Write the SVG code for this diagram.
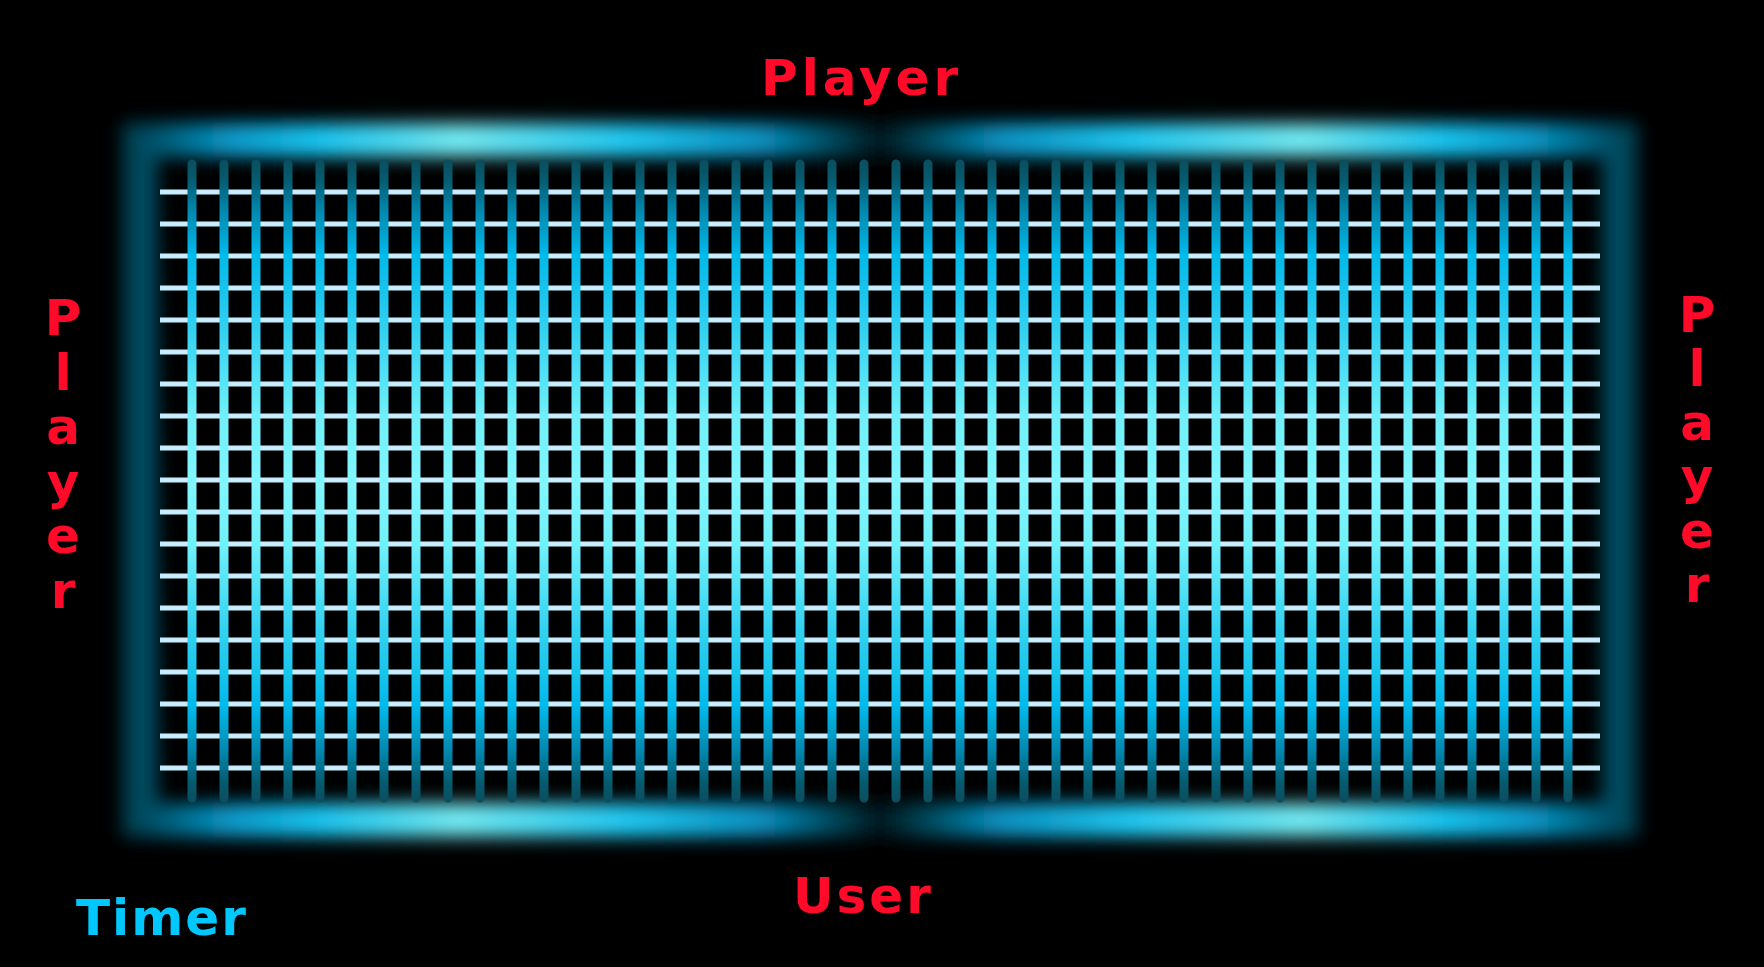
<svg xmlns="http://www.w3.org/2000/svg" width="1764" height="967" viewBox="0 0 1764 967">
<defs>
<linearGradient id="glowGrad" gradientUnits="userSpaceOnUse" x1="140" y1="0" x2="1620" y2="0">
<stop offset="0" stop-color="#00465a"/>
<stop offset="0.06" stop-color="#0898c8"/>
<stop offset="0.12" stop-color="#18c4f0"/>
<stop offset="0.215" stop-color="#74eaf2"/>
<stop offset="0.33" stop-color="#20c8f2"/>
<stop offset="0.42" stop-color="#0890c0"/>
<stop offset="0.47" stop-color="#004658"/>
<stop offset="0.5" stop-color="#00161c"/>
<stop offset="0.53" stop-color="#004658"/>
<stop offset="0.58" stop-color="#0890c0"/>
<stop offset="0.67" stop-color="#20c8f2"/>
<stop offset="0.785" stop-color="#74eaf2"/>
<stop offset="0.88" stop-color="#18c4f0"/>
<stop offset="0.94" stop-color="#0898c8"/>
<stop offset="1" stop-color="#00465a"/>
</linearGradient>
<linearGradient id="barGrad" gradientUnits="userSpaceOnUse" x1="0" y1="160" x2="0" y2="802">
<stop offset="0" stop-color="#0b4e5e"/>
<stop offset="0.03" stop-color="#065a70"/>
<stop offset="0.08" stop-color="#0288b0"/>
<stop offset="0.145" stop-color="#00b8e8"/>
<stop offset="0.26" stop-color="#30d0f0"/>
<stop offset="0.4" stop-color="#70f0fa"/>
<stop offset="0.5" stop-color="#82f6ff"/>
<stop offset="0.6" stop-color="#70f0fa"/>
<stop offset="0.74" stop-color="#30d0f0"/>
<stop offset="0.855" stop-color="#00b8e8"/>
<stop offset="0.92" stop-color="#0288b0"/>
<stop offset="0.97" stop-color="#065a70"/>
<stop offset="1" stop-color="#0b4e5e"/>
</linearGradient>
<filter id="blur" x="-10%" y="-20%" width="120%" height="140%">
<feGaussianBlur stdDeviation="9"/>
</filter>
</defs>
<style>
.lbl{font-family:"DejaVu Sans",sans-serif;font-weight:bold;font-size:50px}
.red{fill:#ff0a28}
.cyan{fill:#00c8ff}
.h{stroke:#c6eefc;stroke-width:5}
.v{stroke:url(#barGrad);stroke-width:9;stroke-linecap:round}
</style>
<rect width="1764" height="967" fill="#000"/>
<g id="board">
<rect x="140" y="140" width="1480" height="680" fill="none" stroke="url(#glowGrad)" stroke-width="34" filter="url(#blur)"/>
<g id="rows">
<line class="h" x1="160" y1="192" x2="1600" y2="192"/>
<line class="h" x1="160" y1="224" x2="1600" y2="224"/>
<line class="h" x1="160" y1="256" x2="1600" y2="256"/>
<line class="h" x1="160" y1="288" x2="1600" y2="288"/>
<line class="h" x1="160" y1="320" x2="1600" y2="320"/>
<line class="h" x1="160" y1="352" x2="1600" y2="352"/>
<line class="h" x1="160" y1="384" x2="1600" y2="384"/>
<line class="h" x1="160" y1="416" x2="1600" y2="416"/>
<line class="h" x1="160" y1="448" x2="1600" y2="448"/>
<line class="h" x1="160" y1="480" x2="1600" y2="480"/>
<line class="h" x1="160" y1="512" x2="1600" y2="512"/>
<line class="h" x1="160" y1="544" x2="1600" y2="544"/>
<line class="h" x1="160" y1="576" x2="1600" y2="576"/>
<line class="h" x1="160" y1="608" x2="1600" y2="608"/>
<line class="h" x1="160" y1="640" x2="1600" y2="640"/>
<line class="h" x1="160" y1="672" x2="1600" y2="672"/>
<line class="h" x1="160" y1="704" x2="1600" y2="704"/>
<line class="h" x1="160" y1="736" x2="1600" y2="736"/>
<line class="h" x1="160" y1="768" x2="1600" y2="768"/>
</g>
<g id="columns">
<path class="v" d="M192 164V798M224 164V798M256 164V798M288 164V798M320 164V798M352 164V798M384 164V798M416 164V798M448 164V798M480 164V798M512 164V798M544 164V798M576 164V798M608 164V798M640 164V798M672 164V798M704 164V798M736 164V798M768 164V798M800 164V798M832 164V798M864 164V798M896 164V798M928 164V798M960 164V798M992 164V798M1024 164V798M1056 164V798M1088 164V798M1120 164V798M1152 164V798M1184 164V798M1216 164V798M1248 164V798M1280 164V798M1312 164V798M1344 164V798M1376 164V798M1408 164V798M1440 164V798M1472 164V798M1504 164V798M1536 164V798M1568 164V798"/>
</g>
</g>
<g id="connectors"></g>
<g id="player-top"><text class="lbl red" x="761" y="95" style="letter-spacing:4px">Player</text></g>
<g id="player-left"><text class="lbl red" text-anchor="middle"><tspan x="63" y="335">P</tspan><tspan x="63" y="390">l</tspan><tspan x="63" y="444">a</tspan><tspan x="63" y="499">y</tspan><tspan x="63" y="553">e</tspan><tspan x="63" y="608">r</tspan></text></g>
<g id="player-right"><text class="lbl red" text-anchor="middle"><tspan x="1697" y="332">P</tspan><tspan x="1697" y="386">l</tspan><tspan x="1697" y="440">a</tspan><tspan x="1697" y="494">y</tspan><tspan x="1697" y="548">e</tspan><tspan x="1697" y="602">r</tspan></text></g>
<g id="user"><text class="lbl red" x="793" y="913" style="letter-spacing:3px">User</text></g>
<g id="timer"><text class="lbl cyan" x="76" y="935" style="letter-spacing:2px">Timer</text></g>
</svg>
